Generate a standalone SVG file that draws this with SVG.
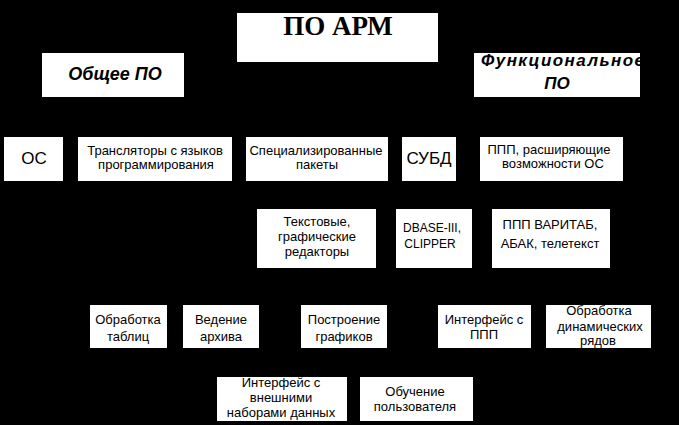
<svg xmlns="http://www.w3.org/2000/svg" width="679" height="425" viewBox="0 0 679 425">
<style>
.box{fill:#fff;stroke:none}
.t{font-family:"Liberation Sans",Arial,sans-serif;font-size:13px;fill:#000;text-anchor:middle}
.big{font-size:17px}
.sm{font-size:12px}
.title{font-family:"Liberation Serif","Times New Roman",serif;font-size:27px;font-weight:bold;fill:#000;text-anchor:middle}
.hd{font-family:"Liberation Sans",Arial,sans-serif;font-size:18px;font-weight:bold;font-style:italic;fill:#000;text-anchor:middle}
.hd2{font-size:17px}
</style>
<defs>
<clipPath id="clipFunc"><rect x="474" y="53" width="166" height="44"/></clipPath>
</defs>
<rect x="0" y="0" width="679" height="425" fill="#000"/>
<g id="connectors"/>
<g id="po-arm"><rect class="box" x="237" y="13" width="201" height="49"/><text class="title" x="338" y="35">ПО АРМ</text></g>
<g id="obshchee-po"><rect class="box" x="42" y="53" width="142" height="44"/><text class="hd" x="115" y="80">Общее ПО</text></g>
<g id="funkc-po"><rect class="box" x="474" y="53" width="166" height="44"/><g clip-path="url(#clipFunc)"><text class="hd hd2" x="481" y="66" style="text-anchor:start" textLength="163" lengthAdjust="spacing">Функциональное</text></g><text class="hd hd2" x="557" y="89">ПО</text></g>
<g id="os"><rect class="box" x="4" y="137" width="59" height="44"/><text class="t big" x="34" y="164">ОС</text></g>
<g id="translyatory"><rect class="box" x="78" y="137" width="154" height="44"/><text class="t" x="155" y="155">Трансляторы с языков</text><text class="t" x="156" y="169">программирования</text></g>
<g id="spec-pakety"><rect class="box" x="246" y="137" width="142" height="44"/><text class="t" x="316" y="155">Специализированные</text><text class="t" x="317" y="169">пакеты</text></g>
<g id="subd"><rect class="box" x="402" y="137" width="54" height="44"/><text class="t big" x="429" y="164">СУБД</text></g>
<g id="ppp-os"><rect class="box" x="480" y="137" width="143" height="44"/><text class="t" x="549" y="154">ППП, расширяющие</text><text class="t" x="553" y="168">возможности ОС</text></g>
<g id="tekst-red"><rect class="box" x="257" y="209" width="119" height="59"/><text class="t" x="317" y="226">Текстовые,</text><text class="t" x="317" y="241">графические</text><text class="t" x="317" y="256">редакторы</text></g>
<g id="dbase"><rect class="box" x="396" y="209" width="76" height="59"/><text class="t sm" x="432" y="232">DBASE-III,</text><text class="t sm" x="430" y="248">CLIPPER</text></g>
<g id="varitab"><rect class="box" x="492" y="209" width="118" height="59"/><text class="t" x="550" y="229">ППП ВАРИТАБ,</text><text class="t" x="550" y="248">АБАК, телетекст</text></g>
<g id="obr-tabl"><rect class="box" x="90" y="305" width="77" height="43"/><text class="t" x="128" y="324">Обработка</text><text class="t" x="128" y="341">таблиц</text></g>
<g id="arhiv"><rect class="box" x="183" y="305" width="76" height="43"/><text class="t" x="221" y="324">Ведение</text><text class="t" x="221" y="341">архива</text></g>
<g id="grafiki"><rect class="box" x="301" y="305" width="86" height="43"/><text class="t" x="344" y="324">Построение</text><text class="t" x="344" y="341">графиков</text></g>
<g id="interf-ppp"><rect class="box" x="438" y="305" width="93" height="43"/><text class="t" x="484" y="324">Интерфейс с</text><text class="t" x="484" y="339">ППП</text></g>
<g id="din-ryady"><rect class="box" x="546" y="305" width="105" height="43"/><text class="t" x="599" y="315">Обработка</text><text class="t" x="600" y="331">динамических</text><text class="t" x="598" y="345">рядов</text></g>
<g id="interf-vnesh"><rect class="box" x="217" y="377" width="130" height="44"/><text class="t" x="281" y="387">Интерфейс с</text><text class="t" x="281" y="402">внешними</text><text class="t" x="281" y="417">наборами данных</text></g>
<g id="obuchenie"><rect class="box" x="360" y="377" width="113" height="44"/><text class="t" x="415" y="396">Обучение</text><text class="t" x="415" y="411">пользователя</text></g>
</svg>
